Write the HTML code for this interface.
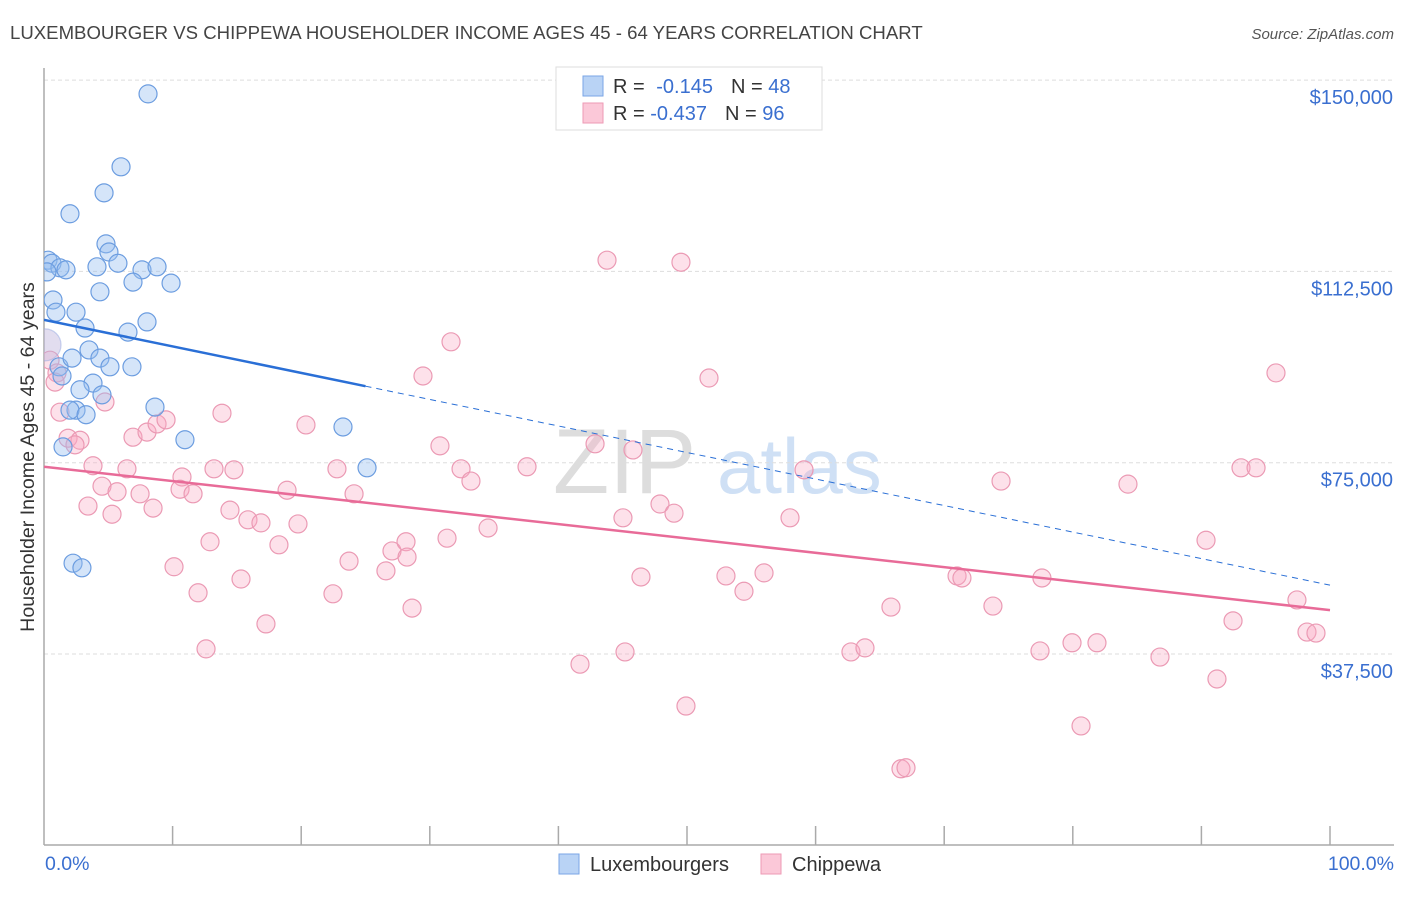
<!DOCTYPE html>
<html><head><meta charset="utf-8">
<style>
body{margin:0;background:#fff;}
svg text{font-family:"Liberation Sans",sans-serif;}
</style></head>
<body>
<svg id="chart" width="1406" height="892">
<defs><clipPath id="plotclip"><rect x="44" y="60" width="1362" height="785"/></clipPath></defs>
<text x="10" y="39" font-size="18.6" fill="#444">LUXEMBOURGER VS CHIPPEWA HOUSEHOLDER INCOME AGES 45 - 64 YEARS CORRELATION CHART</text>
<text x="1394" y="39" font-size="15" fill="#555" font-style="italic" text-anchor="end">Source: ZipAtlas.com</text>
<g>
<text x="553" y="493" font-size="92" fill="#ddd" font-family="Liberation Serif,serif">ZIP</text>
<text x="717" y="493" font-size="78" fill="#cfe0f5">atlas</text>
</g>
<g id="grid"></g>
<g id="axes"></g>
<g id="marks" clip-path="url(#plotclip)"></g>
<text transform="translate(34,457) rotate(-90)" font-size="19.6" fill="#333" text-anchor="middle">Householder Income Ages 45 - 64 years</text>
<text x="45" y="870" font-size="19.5" fill="#3a6fd0">0.0%</text>
<text x="1394" y="870" font-size="19.5" fill="#3a6fd0" text-anchor="end">100.0%</text>
<g>
<rect x="556" y="67" width="266" height="63" fill="#fff" stroke="#ddd"/>
<rect x="583" y="76" width="20" height="20" fill="#b9d3f5" stroke="#7aa6e6"/>
<text x="613" y="93" font-size="20" fill="#333">R = <tspan fill="#3a6fd0" dx="6">-0.145</tspan><tspan dx="18">N = </tspan><tspan fill="#3a6fd0">48</tspan></text>
<rect x="583" y="103" width="20" height="20" fill="#fbc8d8" stroke="#ee9ab5"/>
<text x="613" y="120" font-size="20" fill="#333">R = <tspan fill="#3a6fd0">-0.437</tspan><tspan dx="18">N = </tspan><tspan fill="#3a6fd0">96</tspan></text>
</g>
<g>
<rect x="559" y="854" width="20" height="20" fill="#b9d3f5" stroke="#7aa6e6"/>
<text x="590" y="871" font-size="20" fill="#333">Luxembourgers</text>
<rect x="761" y="854" width="20" height="20" fill="#fbc8d8" stroke="#ee9ab5"/>
<text x="792" y="871" font-size="20" fill="#333">Chippewa</text>
</g>
</svg>
<script>
const yTicks=[37500,75000,112500,150000];
const yTickLabels=["$37,500","$75,000","$112,500","$150,000"];
const luxX=[8.09,5.99,4.67,2.02,4.82,5.05,0.31,0.62,1.24,1.71,4.12,5.75,7.62,8.79,0.23,6.92,9.88,4.35,0.70,0.93,2.49,3.19,6.53,8.01,0.08,3.50,1.17,4.35,2.18,5.13,6.84,1.40,3.81,2.80,4.51,2.49,2.02,3.27,8.63,10.96,23.25,1.48,25.12,2.26,2.95];
const luxY=[147.3,133.0,127.9,123.8,117.9,116.3,114.7,114.1,113.2,112.8,113.4,114.1,112.8,113.4,112.4,110.4,110.2,108.5,106.9,104.5,104.5,101.4,100.6,102.6,98.1,97.1,93.8,95.5,95.5,93.8,93.8,92.0,90.6,89.3,88.3,85.3,85.3,84.4,85.9,79.5,82.0,78.1,74.0,55.3,54.4];
const chipX=[0.47,1.01,0.86,1.24,1.87,2.80,2.41,4.74,6.92,8.01,8.79,9.49,13.84,3.81,6.45,10.73,13.22,14.77,4.51,5.68,7.47,8.48,10.58,11.59,3.42,5.29,14.46,15.86,16.87,18.90,19.75,20.37,22.78,24.11,26.59,12.91,18.27,10.11,11.98,15.32,17.26,12.60,22.47,23.72,27.06,28.15,28.23,28.62,29.47,31.65,30.79,32.43,33.20,34.53,31.34,37.56,42.85,43.78,49.53,45.80,45.02,46.42,41.68,45.18,47.90,48.99,49.92,51.71,53.03,54.43,55.99,59.10,58.01,62.75,63.84,65.86,66.64,67.03,71.00,71.38,73.79,74.42,77.45,77.60,79.94,81.88,80.64,84.29,86.78,90.36,91.21,92.46,93.08,94.25,95.80,97.43,98.21,98.91];
const chipY=[95.1,92.6,90.8,84.9,79.8,79.4,78.5,86.9,80.0,81.0,82.6,83.4,84.7,74.4,73.8,72.2,73.8,73.6,70.4,69.3,68.9,66.1,69.8,68.9,66.5,64.9,65.7,63.8,63.2,69.6,63.0,82.4,73.8,68.9,53.8,59.5,58.9,54.6,49.5,52.2,43.4,38.5,49.3,55.7,57.7,59.5,56.5,46.5,92.0,98.7,78.3,73.8,71.4,62.2,60.2,74.2,78.7,114.7,114.3,77.5,64.2,52.6,35.5,37.9,66.9,65.1,27.3,91.6,52.8,49.8,53.4,73.6,64.2,37.9,38.7,46.7,15.0,15.2,52.8,52.4,46.9,71.4,38.1,52.4,39.7,39.7,23.4,70.8,36.9,59.8,32.6,44.0,74.0,74.0,92.6,48.1,41.8,41.6];
const luxTrend=[103.0,51.0];
const chipTrend=[74.2,46.1];
const luxSolidEnd=25;

const NS="http://www.w3.org/2000/svg";
const X0=44,X1=1330;
function sx(p){return X0+(X1-X0)*p/100;}
function sy(v){return 654-(v-37.5)/37.5*191.3;}
function mk(tag,attrs,parent){const e=document.createElementNS(NS,tag);for(const k in attrs)e.setAttribute(k,attrs[k]);parent.appendChild(e);return e;}
const grid=document.getElementById('grid'),axes=document.getElementById('axes'),marks=document.getElementById('marks');
yTicks.forEach((t,i)=>{
  const y=sy(t/1000);
  const l=mk('line',{x1:X0,x2:1394,y1:y,y2:y,stroke:'#ddd','stroke-dasharray':'4,3'},grid);
  
  
  const tx=mk('text',{x:1393,y:y+24,'font-size':20,fill:'#3a6fd0','text-anchor':'end'},grid);
  tx.textContent=yTickLabels[i];
  
  
});
let a=mk('line',{x1:X0,x2:X0,y1:68,y2:845,stroke:'#aaa','stroke-width':1.5},axes);


a=mk('line',{x1:X0,x2:1394,y1:845,y2:845,stroke:'#aaa','stroke-width':1.5},axes);


for(let i=1;i<=10;i++){
  const t=mk('line',{x1:sx(i*10),x2:sx(i*10),y1:826,y2:845,stroke:'#aaa','stroke-width':1.5},axes);
  
  
}
chipX.forEach((x,i)=>{
  const c=mk('circle',{cx:sx(x),cy:sy(chipY[i]),r:9,fill:'rgba(248,170,196,0.35)',stroke:'#eb9ab4','stroke-width':1.2},marks);
  
  
});
luxX.forEach((x,i)=>{
  const big=(i===24);
  const c=mk('circle',{cx:sx(x),cy:sy(luxY[i]),r:big?16:9,fill:big?'rgba(190,180,220,0.45)':'rgba(150,190,240,0.4)',stroke:big?'rgba(150,170,225,0.5)':'#6c9de0','stroke-width':1.2},marks);
  
  
});
function tv(tr,p){return tr[0]+(tr[1]-tr[0])*p/100;}
let ln=mk('line',{x1:sx(0),y1:sy(tv(chipTrend,0)),x2:sx(100),y2:sy(tv(chipTrend,100)),stroke:'#e86b98','stroke-width':2.5},marks);


ln=mk('line',{x1:sx(0),y1:sy(tv(luxTrend,0)),x2:sx(luxSolidEnd),y2:sy(tv(luxTrend,luxSolidEnd)),stroke:'#2a6fd6','stroke-width':2.5},marks);


ln=mk('line',{x1:sx(luxSolidEnd),y1:sy(tv(luxTrend,luxSolidEnd)),x2:sx(100),y2:sy(tv(luxTrend,100)),stroke:'#2a6fd6','stroke-width':1,'stroke-dasharray':'6,5'},marks);


</script>
</body></html>
